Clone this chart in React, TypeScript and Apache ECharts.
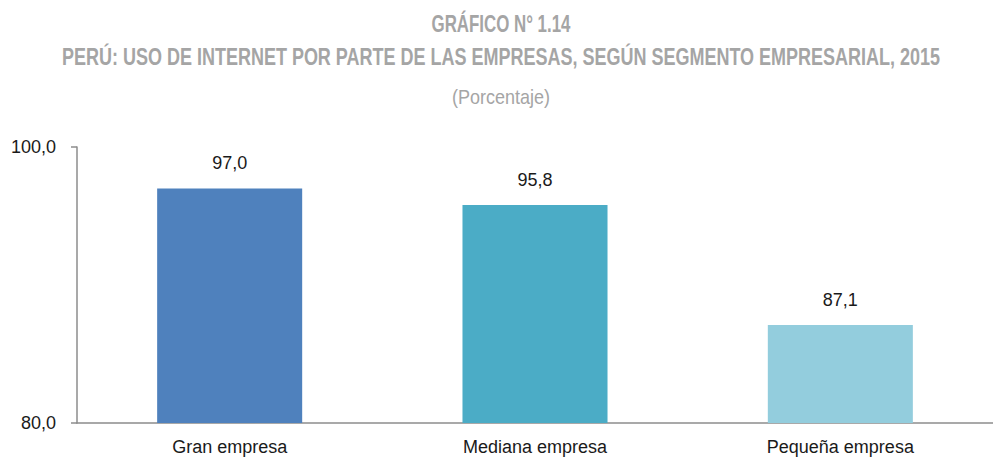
import React, { useEffect, useRef } from "react";
import * as echarts from "echarts";

const categories = ["Gran empresa", "Mediana empresa", "Pequeña empresa"];
const values = [97.0, 95.8, 87.1];
const barColors = ["#4f81bd", "#4bacc6", "#93cddd"];
const titleLines = [
  "GRÁFICO N° 1.14",
  "PERÚ: USO DE INTERNET POR PARTE DE LAS EMPRESAS, SEGÚN SEGMENTO EMPRESARIAL, 2015",
  "(Porcentaje)",
];

const fmt = (v: number) => v.toFixed(1).replace(".", ",");

const titleFonts = [
  "bold 24px 'Liberation Sans', Arial, sans-serif",
  "bold 24px 'Liberation Sans', Arial, sans-serif",
  "21px 'Liberation Sans', Arial, sans-serif",
];
const titleWidths = [139, 878, 98];
const titleYs = [23, 57, 96];

function measure(text: string, font: string) {
  const c = document.createElement("canvas");
  const ctx = c.getContext("2d")!;
  ctx.font = font;
  return ctx.measureText(text).width;
}

export default function App() {
  const ref = useRef<HTMLDivElement>(null);
  useEffect(() => {
    const chart = echarts.init(ref.current!, undefined, { renderer: "svg" });
    const graphics = titleLines.map((t, i) => {
      const w = measure(t, titleFonts[i]);
      return {
        type: "text",
        x: 501,
        y: titleYs[i],
        scaleX: titleWidths[i] / w,
        style: {
          text: t,
          font: titleFonts[i],
          fill: "#a5a5a5",
          align: "center",
          verticalAlign: "middle",
        },
      };
    });
    chart.setOption({
      animation: false,
      backgroundColor: "#ffffff",
      graphic: graphics,
      grid: { left: 77, right: -2, top: 147, bottom: 39, containLabel: false },
      xAxis: {
        type: "category",
        data: categories,
        axisLine: { lineStyle: { color: "#8c8c8c", width: 1.5 } },
        axisTick: { show: false },
        axisLabel: {
          color: "#1a1a1a",
          fontFamily: "'Liberation Sans', Arial, sans-serif",
          fontSize: 18,
          margin: 15,
        },
      },
      yAxis: {
        type: "value",
        min: 80,
        max: 100,
        interval: 20,
        axisLine: { show: true, lineStyle: { color: "#8c8c8c", width: 1.5 } },
        axisTick: { show: true, length: 6, lineStyle: { color: "#8c8c8c", width: 1.5 } },
        splitLine: { show: false },
        axisLabel: {
          color: "#1a1a1a",
          fontFamily: "'Liberation Sans', Arial, sans-serif",
          fontSize: 18,
          margin: 21,
          formatter: (v: number) => fmt(v),
        },
      },
      series: [
        {
          type: "bar",
          barWidth: "47.5%",
          data: values.map((v, i) => ({ value: v, itemStyle: { color: barColors[i] } })),
          label: {
            show: true,
            position: "top",
            distance: 16,
            color: "#1a1a1a",
            fontFamily: "'Liberation Sans', Arial, sans-serif",
            fontSize: 18,
            formatter: (p: any) => fmt(p.value),
          },
        },
      ],
    });
    return () => chart.dispose();
  }, []);
  return <div ref={ref} style={{ width: 993, height: 462, position: "absolute", left: 0, top: 0 }} />;
}
